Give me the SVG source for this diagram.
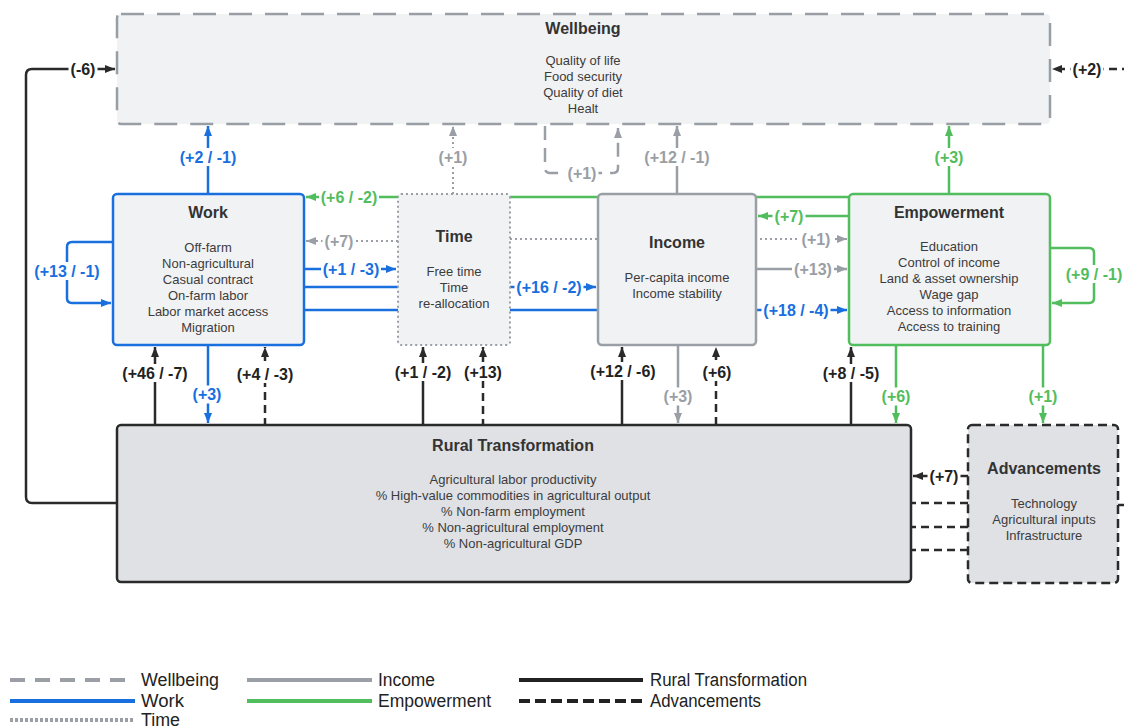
<svg xmlns="http://www.w3.org/2000/svg" width="1124" height="728" viewBox="0 0 1124 728">
<style>
.t{font-family:"Liberation Sans",Arial,sans-serif;font-size:16px;font-weight:bold;fill:#333;text-anchor:middle}
.i{font-family:"Liberation Sans",Arial,sans-serif;font-size:13px;fill:#3c3c3c;text-anchor:middle}
.lb{font-family:"Liberation Sans",Arial,sans-serif;font-size:16px;font-weight:bold;text-anchor:middle}
.bg{fill:#fff}
.lg{font-family:"Liberation Sans",Arial,sans-serif;font-size:18px;fill:#222}
.c{fill:none;stroke-width:2.5}
.blue{stroke:#1a6fdf}.green{stroke:#52bd5d}.gray{stroke:#9a9ea5}.dark{stroke:#2a2a2a}
.dash{stroke-dasharray:8 5}.dot{stroke-dasharray:2 3;stroke-width:2}.wdash{stroke-dasharray:14 8}
.fb{fill:#1a6fdf}.fg{fill:#52bd5d}.fy{fill:#9a9ea5}.fd{fill:#222}
</style>
<defs>
<marker id="ab" viewBox="0 0 10 10" refX="10" refY="5" markerWidth="10" markerHeight="10" markerUnits="userSpaceOnUse" orient="auto"><path d="M0,1 L10,5 L0,9 z" fill="#1a6fdf"/></marker>
<marker id="ag" viewBox="0 0 10 10" refX="10" refY="5" markerWidth="10" markerHeight="10" markerUnits="userSpaceOnUse" orient="auto"><path d="M0,1 L10,5 L0,9 z" fill="#52bd5d"/></marker>
<marker id="ay" viewBox="0 0 10 10" refX="10" refY="5" markerWidth="10" markerHeight="10" markerUnits="userSpaceOnUse" orient="auto"><path d="M0,1 L10,5 L0,9 z" fill="#9a9ea5"/></marker>
<marker id="ad" viewBox="0 0 10 10" refX="10" refY="5" markerWidth="10" markerHeight="10" markerUnits="userSpaceOnUse" orient="auto"><path d="M0,1 L10,5 L0,9 z" fill="#2a2a2a"/></marker>
</defs>
<rect width="1124" height="728" fill="#fff"/>

<g id="connectors">
<path class="c dark" d="M117,503 H32 Q26,503 26,497 V75 Q26,69 32,69 H115" marker-end="url(#ad)"/>
<path class="c dark dash" d="M1118,505 H1127 V69 H1052" marker-end="url(#ad)"/>
<path class="c blue" d="M208,194 V126" marker-end="url(#ab)"/>
<path class="c gray dot" d="M453,194 V126" marker-end="url(#ay)"/>
<path class="c gray wdash" d="M545,126 V168 Q545,173 550,173 H613 Q618,173 618,168 V128" marker-end="url(#ay)"/>
<path class="c gray" d="M677,194 V126" marker-end="url(#ay)"/>
<path class="c green" d="M949,194 V126" marker-end="url(#ag)"/>
<path class="c green" d="M849,197 H306" marker-end="url(#ag)"/>
<path class="c green" d="M849,216 H758" marker-end="url(#ag)"/>
<path class="c gray dot" d="M398,241 H306" marker-end="url(#ay)"/>
<path class="c gray dot" d="M510,239 H847" marker-end="url(#ay)"/>
<path class="c blue" d="M304,269 H396" marker-end="url(#ab)"/>
<path class="c blue" d="M304,287 H596" marker-end="url(#ab)"/>
<path class="c blue" d="M304,310 H847" marker-end="url(#ab)"/>
<path class="c gray" d="M756,269 H847" marker-end="url(#ay)"/>
<path class="c blue" d="M113,242 H72 Q67,242 67,247 V298 Q67,303 72,303 H111" marker-end="url(#ab)"/>
<path class="c green" d="M1050,248 H1089 Q1094,248 1094,253 V298 Q1094,303 1089,303 H1052" marker-end="url(#ag)"/>
<path class="c dark" d="M155,425 V347" marker-end="url(#ad)"/>
<path class="c blue" d="M208,345 V423" marker-end="url(#ab)"/>
<path class="c dark dash" d="M968,503 H265 V347" marker-end="url(#ad)"/>
<path class="c dark" d="M423,425 V347" marker-end="url(#ad)"/>
<path class="c dark dash" d="M968,527 H483 V347" marker-end="url(#ad)"/>
<path class="c dark" d="M622,425 V347" marker-end="url(#ad)"/>
<path class="c gray" d="M678,345 V423" marker-end="url(#ay)"/>
<path class="c dark dash" d="M968,550 H716 V347" marker-end="url(#ad)"/>
<path class="c dark" d="M851,425 V347" marker-end="url(#ad)"/>
<path class="c green" d="M896,345 V423" marker-end="url(#ag)"/>
<path class="c green" d="M1043,345 V423" marker-end="url(#ag)"/>
<path class="c dark dash" d="M968,476 H913" marker-end="url(#ad)"/>
</g>

<g id="wellbeing">
<rect x="117" y="14" width="933" height="110" rx="4" fill="#f1f2f4" stroke="#999ea4" stroke-width="2.5" stroke-dasharray="23 13"/>
<text class="t" x="583" y="34">Wellbeing</text>
<text class="i" x="583" y="65">Quality of life</text>
<text class="i" x="583" y="81">Food security</text>
<text class="i" x="583" y="97">Quality of diet</text>
<text class="i" x="583" y="113">Healt</text>
</g>

<g id="work">
<rect x="113" y="194" width="191" height="151" rx="4" fill="#f1f2f4" stroke="#1a6fdf" stroke-width="2.5"/>
<text class="t" x="208" y="218">Work</text>
<text class="i" x="208" y="252">Off-farm</text>
<text class="i" x="208" y="268">Non-agricultural</text>
<text class="i" x="208" y="284">Casual contract</text>
<text class="i" x="208" y="300">On-farm labor</text>
<text class="i" x="208" y="316">Labor market access</text>
<text class="i" x="208" y="332">Migration</text>
</g>

<g id="time">
<rect x="398" y="194" width="112" height="151" rx="3" fill="#f1f2f4" stroke="#9a9ea5" stroke-width="2" stroke-dasharray="2 3"/>
<text class="t" x="454" y="242">Time</text>
<text class="i" x="454" y="276">Free time</text>
<text class="i" x="454" y="292">Time</text>
<text class="i" x="454" y="308">re-allocation</text>
</g>

<g id="income">
<rect x="598" y="194" width="158" height="151" rx="4" fill="#f1f2f4" stroke="#9a9ea5" stroke-width="2.5"/>
<text class="t" x="677" y="248">Income</text>
<text class="i" x="677" y="282">Per-capita income</text>
<text class="i" x="677" y="298">Income stability</text>
</g>

<g id="empowerment">
<rect x="849" y="194" width="201" height="151" rx="4" fill="#f1f2f4" stroke="#52bd5d" stroke-width="2.5"/>
<text class="t" x="949" y="218">Empowerment</text>
<text class="i" x="949" y="251">Education</text>
<text class="i" x="949" y="267">Control of income</text>
<text class="i" x="949" y="283">Land &amp; asset ownership</text>
<text class="i" x="949" y="299">Wage gap</text>
<text class="i" x="949" y="315">Access to information</text>
<text class="i" x="949" y="331">Access to training</text>
</g>

<g id="rural-transformation">
<rect x="117" y="425" width="794" height="157" rx="4" fill="#dfe1e5" stroke="#2a2a2a" stroke-width="2.5"/>
<text class="t" x="513" y="451">Rural Transformation</text>
<text class="i" x="513" y="484">Agricultural labor productivity</text>
<text class="i" x="513" y="500">% High-value commodities in agricultural output</text>
<text class="i" x="513" y="516">% Non-farm employment</text>
<text class="i" x="513" y="532">% Non-agricultural employment</text>
<text class="i" x="513" y="548">% Non-agricultural GDP</text>
</g>

<g id="advancements">
<rect x="968" y="425" width="150" height="158" rx="4" fill="#dfe1e5" stroke="#2a2a2a" stroke-width="2.5" stroke-dasharray="9 5"/>
<text class="t" x="1044" y="474">Advancements</text>
<text class="i" x="1044" y="508">Technology</text>
<text class="i" x="1044" y="524">Agricultural inputs</text>
<text class="i" x="1044" y="540">Infrastructure</text>
</g>

<g id="connector-labels">
<rect class="bg" x="68.5" y="60" width="29" height="18"/><text class="lb fd" x="83" y="74.5">(-6)</text>
<rect class="bg" x="1070.5" y="60" width="33" height="18"/><text class="lb fd" x="1087" y="74.5">(+2)</text>
<rect class="bg" x="178" y="148" width="60" height="18"/><text class="lb fb" x="208" y="162.5">(+2 / -1)</text>
<rect class="bg" x="436.5" y="148" width="33" height="18"/><text class="lb fy" x="453" y="162.5">(+1)</text>
<rect class="bg" x="565.5" y="164" width="33" height="18"/><text class="lb fy" x="582" y="178.5">(+1)</text>
<rect class="bg" x="642.5" y="148" width="69" height="18"/><text class="lb fy" x="677" y="162.5">(+12 / -1)</text>
<rect class="bg" x="932.5" y="148" width="33" height="18"/><text class="lb fg" x="949" y="162.5">(+3)</text>
<rect class="bg" x="319" y="188" width="60" height="18"/><text class="lb fg" x="349" y="202.5">(+6 / -2)</text>
<rect class="bg" x="772.5" y="207" width="33" height="18"/><text class="lb fg" x="789" y="221.5">(+7)</text>
<rect class="bg" x="322.5" y="232" width="33" height="18"/><text class="lb fy" x="339" y="246.5">(+7)</text>
<rect class="bg" x="799.5" y="230" width="33" height="18"/><text class="lb fy" x="816" y="244.5">(+1)</text>
<rect class="bg" x="321" y="260" width="60" height="18"/><text class="lb fb" x="351" y="274.5">(+1 / -3)</text>
<rect class="bg" x="514.5" y="278" width="69" height="18"/><text class="lb fb" x="549" y="292.5">(+16 / -2)</text>
<rect class="bg" x="792" y="260" width="42" height="18"/><text class="lb fy" x="813" y="274.5">(+13)</text>
<rect class="bg" x="761.5" y="301" width="69" height="18"/><text class="lb fb" x="796" y="315.5">(+18 / -4)</text>
<rect class="bg" x="32.5" y="262" width="69" height="18"/><text class="lb fb" x="67" y="276.5">(+13 / -1)</text>
<rect class="bg" x="1064" y="265" width="60" height="18"/><text class="lb fg" x="1094" y="279.5">(+9 / -1)</text>
<rect class="bg" x="120.5" y="364" width="69" height="18"/><text class="lb fd" x="155" y="378.5">(+46 / -7)</text>
<rect class="bg" x="190.5" y="385.5" width="33" height="18"/><text class="lb fb" x="207" y="400">(+3)</text>
<rect class="bg" x="235" y="365" width="60" height="18"/><text class="lb fd" x="265" y="379.5">(+4 / -3)</text>
<rect class="bg" x="393" y="363" width="60" height="18"/><text class="lb fd" x="423" y="377.5">(+1 / -2)</text>
<rect class="bg" x="462" y="363" width="42" height="18"/><text class="lb fd" x="483" y="377.5">(+13)</text>
<rect class="bg" x="588.5" y="362" width="69" height="18"/><text class="lb fd" x="623" y="376.5">(+12 / -6)</text>
<rect class="bg" x="661.5" y="387.5" width="33" height="18"/><text class="lb fy" x="678" y="402">(+3)</text>
<rect class="bg" x="700.5" y="363" width="33" height="18"/><text class="lb fd" x="717" y="377.5">(+6)</text>
<rect class="bg" x="821" y="364" width="60" height="18"/><text class="lb fd" x="851" y="378.5">(+8 / -5)</text>
<rect class="bg" x="879.5" y="387.5" width="33" height="18"/><text class="lb fg" x="896" y="402">(+6)</text>
<rect class="bg" x="1026.5" y="387.5" width="33" height="18"/><text class="lb fg" x="1043" y="402">(+1)</text>
<rect class="bg" x="927.5" y="467" width="33" height="18"/><text class="lb fd" x="944" y="481.5">(+7)</text>
</g>

<g id="legend">
<line x1="10" y1="680" x2="135" y2="680" stroke="#9a9ea5" stroke-width="4" stroke-dasharray="15 10"/>
<text class="lg" x="141" y="686" textLength="78" lengthAdjust="spacingAndGlyphs">Wellbeing</text>
<line x1="10" y1="701" x2="135" y2="701" stroke="#1a6fdf" stroke-width="4"/>
<text class="lg" x="141" y="707" textLength="43" lengthAdjust="spacingAndGlyphs">Work</text>
<line x1="10" y1="720" x2="135" y2="720" stroke="#9a9ea5" stroke-width="4" stroke-dasharray="3 2"/>
<text class="lg" x="141" y="726" textLength="39" lengthAdjust="spacingAndGlyphs">Time</text>
<line x1="247" y1="680" x2="372" y2="680" stroke="#9a9ea5" stroke-width="4"/>
<text class="lg" x="378" y="686" textLength="57" lengthAdjust="spacingAndGlyphs">Income</text>
<line x1="247" y1="701" x2="372" y2="701" stroke="#52bd5d" stroke-width="4"/>
<text class="lg" x="378" y="707" textLength="113" lengthAdjust="spacingAndGlyphs">Empowerment</text>
<line x1="519" y1="680" x2="643" y2="680" stroke="#222" stroke-width="4"/>
<text class="lg" x="650" y="686" textLength="157" lengthAdjust="spacingAndGlyphs">Rural Transformation</text>
<line x1="519" y1="701" x2="643" y2="701" stroke="#222" stroke-width="4" stroke-dasharray="11 5"/>
<text class="lg" x="650" y="707" textLength="111" lengthAdjust="spacingAndGlyphs">Advancements</text>
</g>
</svg>
